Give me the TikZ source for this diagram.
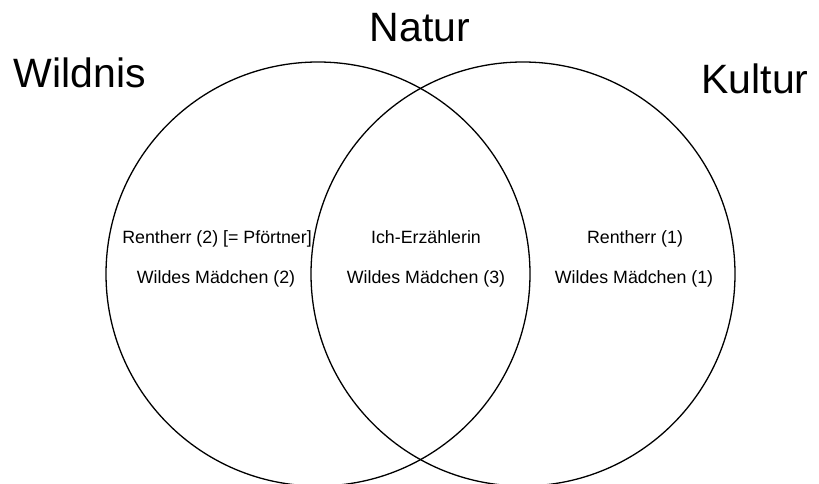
\documentclass[tikz,border=0pt]{standalone}
\usepackage{fontspec}
\setmainfont{Liberation Sans}
\usepackage{tikz}

\begin{document}
\begin{tikzpicture}[x=1pt, y=-1pt,
    bigtext/.style={anchor=base, inner sep=0pt, font=\fontsize{41}{48}\selectfont},
    smalltext/.style={anchor=base, inner sep=0pt, font=\fontsize{17.8}{21}\selectfont}]
        \def\rad{212}
        \def\leftx{318}
        \def\rightx{523}
        \def\midy{274}
        \clip (0,0) rectangle (819,484);

        % the two circles
        \draw[line width=1.3pt] (\leftx,\midy) circle[radius=\rad];
        \draw[line width=1.3pt] (\rightx,\midy) circle[radius=\rad];

        % headings
        \node[bigtext] (wildnis) at (80,88) {Wildnis};
        \node[bigtext] (natur) at (420,42) {Natur};
        \node[bigtext] (kultur) at (755,94) {Kultur};

        % entries
        \node[smalltext] (renthL) at (217,243) {Rentherr (2) [= Pförtner]};
        \node[smalltext] (wildL) at (216,283) {Wildes Mädchen (2)};
        \node[smalltext] (ich) at (426,243) {Ich-Erzählerin};
        \node[smalltext] (wildM) at (426,283) {Wildes Mädchen (3)};
        \node[smalltext] (renthR) at (635,243) {Rentherr (1)};
        \node[smalltext] (wildR) at (634,283) {Wildes Mädchen (1)};
\end{tikzpicture}
\end{document}
